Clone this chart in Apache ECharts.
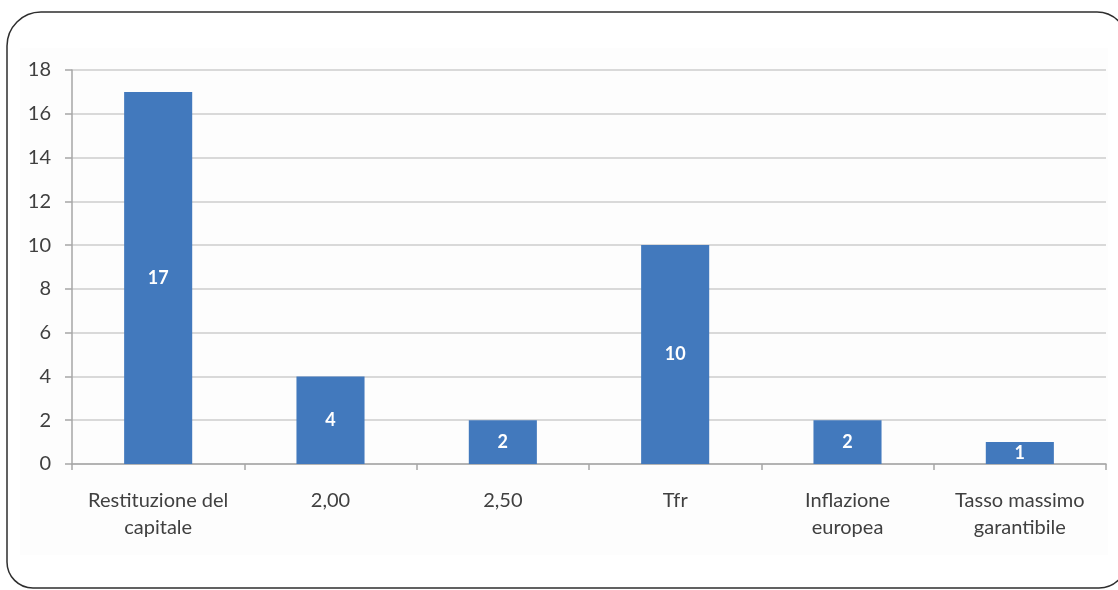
<!DOCTYPE html>
<html>
<head>
<meta charset="utf-8">
<script src="https://cdn.jsdelivr.net/npm/echarts@6/dist/echarts.min.js"></script>
<style>
  html, body { margin: 0; padding: 0; background: #fff; }
  #chart { width: 1118px; height: 590px; }
</style>
</head>
<body>
<div id="chart"></div>
<script>
// Categories and counts
const categories = ['Restituzione del\ncapitale', '2,00', '2,50', 'Tfr', 'Inflazione\neuropea', 'Tasso massimo\ngarantibile'];
const counts = [17, 4, 2, 10, 2, 1];
const yTicks = { min: 0, max: 18, step: 2 };

const FONT = 'Lato, "Open Sans", sans-serif';
const chart = echarts.init(document.getElementById('chart'), null, { renderer: 'canvas' });

chart.setOption({
  animation: false,
  backgroundColor: '#ffffff',
  graphic: [
    {
      type: 'rect', z: -10, silent: true,
      shape: { x: 20, y: 48, width: 1088, height: 507 },
      style: { fill: '#fdfdfd', stroke: null }
    },
    {
      type: 'rect', z: 100, silent: true,
      shape: { x: 7, y: 12, width: 1120, height: 576, r: [34, 30, 28, 26] },
      style: { fill: null, stroke: '#2e2e2e', lineWidth: 1.5 }
    }
  ],
  grid: { left: 72, right: 12, top: 70, bottom: 126, containLabel: false },
  xAxis: {
    type: 'category',
    data: categories,
    axisLine: { lineStyle: { color: '#a6a6a6', width: 1.5 } },
    axisTick: { show: true, alignWithLabel: false, length: 6, lineStyle: { color: '#a6a6a6', width: 1.5 } },
    axisLabel: {
      color: '#404040', fontFamily: FONT, fontSize: 20, lineHeight: 27, margin: 23,
      interval: 0
    }
  },
  yAxis: {
    type: 'value',
    min: yTicks.min, max: yTicks.max, interval: yTicks.step,
    axisLine: { show: true, lineStyle: { color: '#a6a6a6', width: 1.5 } },
    axisTick: { show: true, length: 7, lineStyle: { color: '#a6a6a6', width: 1.5 } },
    splitLine: { lineStyle: { color: '#cccccc', width: 1.5 } },
    axisLabel: { color: '#404040', fontFamily: FONT, fontSize: 20, margin: 21 }
  },
  series: [{
    type: 'bar',
    data: counts,
    barWidth: '39.5%',
    itemStyle: { color: '#4279bd' },
    label: {
      show: true, position: 'inside', color: '#ffffff',
      fontFamily: FONT, fontSize: 18, fontWeight: 'bold'
    }
  }]
});
</script>
</body>
</html>
